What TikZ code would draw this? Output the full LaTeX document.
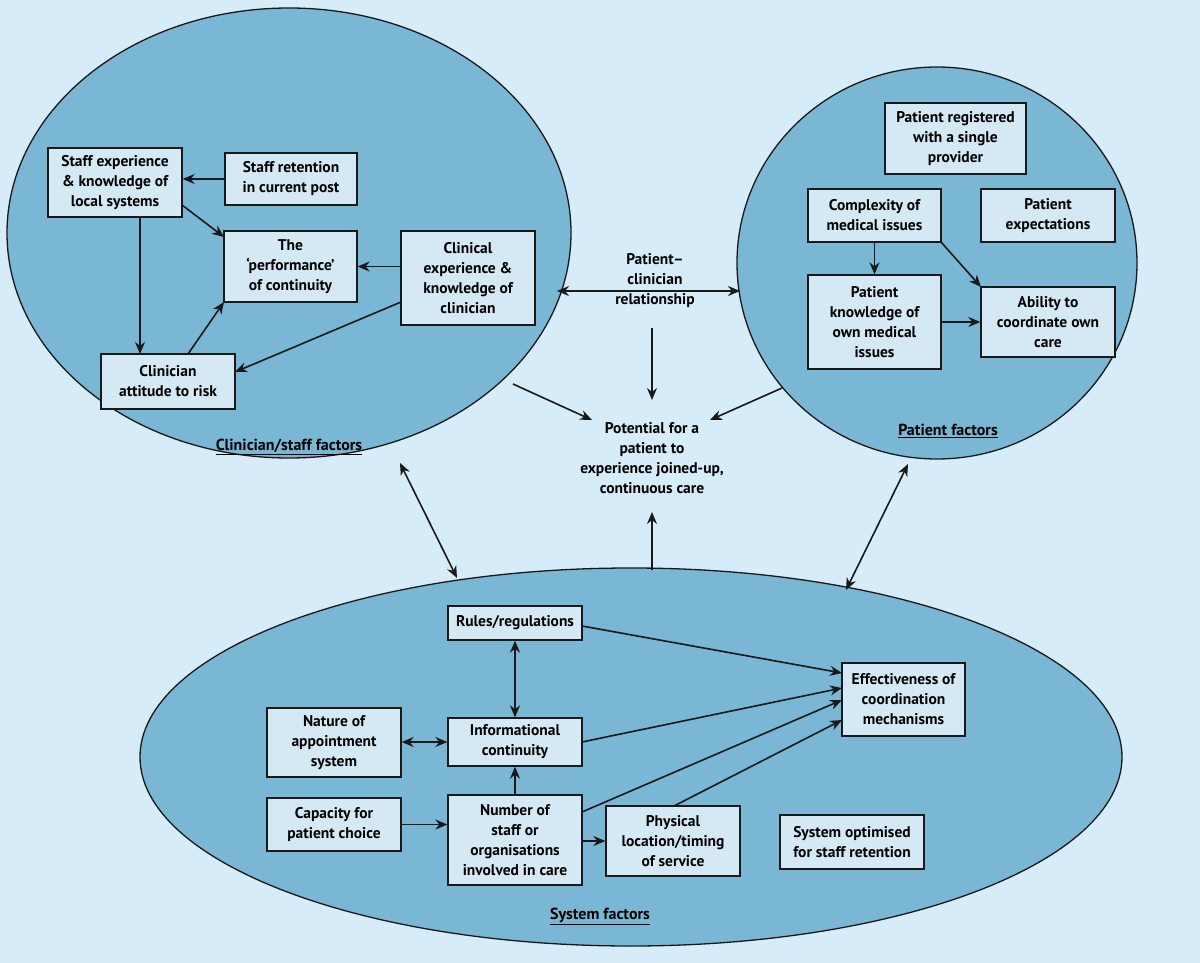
\documentclass[tikz,border=0pt]{standalone}
\usepackage{fontspec}
\setmainfont{PT Sans}
\usetikzlibrary{arrows.meta,shapes.geometric}
\definecolor{bg}{RGB}{214,236,248}
\definecolor{ell}{RGB}{122,183,212}
\definecolor{bx}{RGB}{213,233,245}
\definecolor{ink}{RGB}{25,25,25}
\tikzset{
 box/.style={draw=ink,line width=1.3pt,fill=bx,align=center,inner sep=0pt,font=\fontsize{15.5}{20}\selectfont\bfseries},
 ellip/.style={ellipse,draw=ink,line width=1.3pt,fill=ell,inner sep=0pt},
 txt/.style={align=center,font=\fontsize{15.5}{20}\selectfont\bfseries},
 lab/.style={font=\fontsize{16}{20}\selectfont\bfseries},
 ar/.style={-{Stealth[length=12pt,width=10pt]},line width=1.6pt,draw=ink},
 dar/.style={{Stealth[length=12pt,width=10pt]}-{Stealth[length=12pt,width=10pt]},line width=1.6pt,draw=ink}
}
\newcommand{\bxn}[6]{%
 \pgfmathsetmacro{\cxx}{(#2+#4)/2}\pgfmathsetmacro{\cyy}{(#3+#5)/2}%
 \pgfmathsetmacro{\www}{#4-#2}\pgfmathsetmacro{\hhh}{#5-#3}%
 \node[box,minimum width=\www pt,minimum height=\hhh pt] (#1) at (\cxx,\cyy) {#6};}
\begin{document}
\begin{tikzpicture}[x=1pt,y=-1pt]
\fill[bg] (0,0) rectangle (1200,963);
\useasboundingbox (0,0) rectangle (1200,963);
\node[ellip,minimum width=564pt,minimum height=450pt] (ce) at (289,233) {};
\node[ellip,minimum width=400pt,minimum height=392pt] (pe) at (937,263) {};
\node[ellip,minimum width=982pt,minimum height=378pt] (se) at (631,757) {};
% clinician
\bxn{sx}{48}{148}{182}{217}{Staff experience\\\& knowledge of\\local systems}
\bxn{sr}{225}{153}{357}{205}{Staff retention\\in current post}
\bxn{pf}{224}{231}{357}{302}{The\\`performance'\\of continuity}
\bxn{cx}{401}{231}{535}{325}{Clinical\\experience \&\\knowledge of\\clinician}
\bxn{ca}{101}{354}{235}{409}{Clinician\\attitude to risk}
% patient
\bxn{pr}{885}{103}{1026}{174}{Patient registered\\with a single\\provider}
\bxn{cm}{808}{189}{941}{242}{Complexity of\\medical issues}
\bxn{px}{981}{189}{1115}{242}{Patient\\expectations}
\bxn{pk}{808}{275}{941}{369}{Patient\\knowledge of\\own medical\\issues}
\bxn{ab}{981}{287}{1115}{357}{Ability to\\coordinate own\\care}
% system
\bxn{ru}{448}{606}{582}{640}{Rules/regulations}
\bxn{na}{267}{708}{401}{777}{Nature of\\appointment\\system}
\bxn{ic}{448}{718}{582}{766}{Informational\\continuity}
\bxn{ef}{842}{663}{965}{736}{Effectiveness of\\coordination\\mechanisms}
\bxn{cp}{267}{798}{401}{851}{Capacity for\\patient choice}
\bxn{nu}{448}{795}{582}{885}{Number of\\staff or\\organisations\\involved in care}
\bxn{ph}{606}{806}{740}{876}{Physical\\location/timing\\of service}
\bxn{so}{780}{815}{924}{869}{System optimised\\for staff retention}
% free text
\node[txt] (rel) at (655,281) {Patient–\\clinician\\relationship};
\node[txt] (pot) at (652,458) {Potential for a\\patient to\\experience joined-up,\\continuous care};
\node[lab] (l1) at (289,447) {\underline{Clinician/staff factors}};
\node[lab] (l2) at (948,431) {\underline{Patient factors}};
\node[lab] (l3) at (600,916) {\underline{System factors}};
% coordinates
\coordinate (r1) at (557,291); \coordinate (r2) at (740,291);
\coordinate (d1) at (652,328); \coordinate (d2) at (652,400);
\coordinate (c1) at (513,384); \coordinate (c2) at (592,420);
\coordinate (p1) at (782,388); \coordinate (p2) at (710,420);
\coordinate (s1) at (652,570); \coordinate (s2) at (652,512);
\coordinate (a1) at (400,463); \coordinate (a2) at (457,578);
\coordinate (b1) at (908,464); \coordinate (b2) at (846,590);
% arrows clinician
\draw[ar] (sr.west) -- (sx.east|-sr.west);
\draw[ar] (182,205) -- (224,237);
\draw[ar] (140,217) -- (140,354);
\draw[ar] (188,354) -- (224,302);
\draw[ar] (cx.west|-pf.east) -- (pf.east);
\draw[ar] (401,302) -- (235,372);
% center
\draw[dar] (r1) -- (r2);
\draw[ar] (d1) -- (d2);
\draw[ar] (c1) -- (c2);
\draw[ar] (p1) -- (p2);
\draw[ar] (s1) -- (s2);
\draw[dar] (a1) -- (a2);
\draw[dar] (b1) -- (b2);
% patient
\draw[ar] (cm.south) -- (pk.north);
\draw[ar] (941,242) -- (981,287);
\draw[ar] (pk.east|-ab.west) -- (ab.west);
% system
\draw[dar] (ru.south) -- (ic.north);
\draw[ar] (582,626) -- (842,673);
\draw[dar] (na.east|-ic.west) -- (ic.west);
\draw[ar] (582,742) -- (842,688);
\draw[ar] (nu.north) -- (ic.south);
\draw[ar] (582,812) -- (842,700);
\draw[ar] (cp.east) -- (nu.west|-cp.east);
\draw[ar] (nu.east|-ph.west) -- (ph.west);
\draw[ar] (674,806) -- (842,720);
\end{tikzpicture}
\end{document}
